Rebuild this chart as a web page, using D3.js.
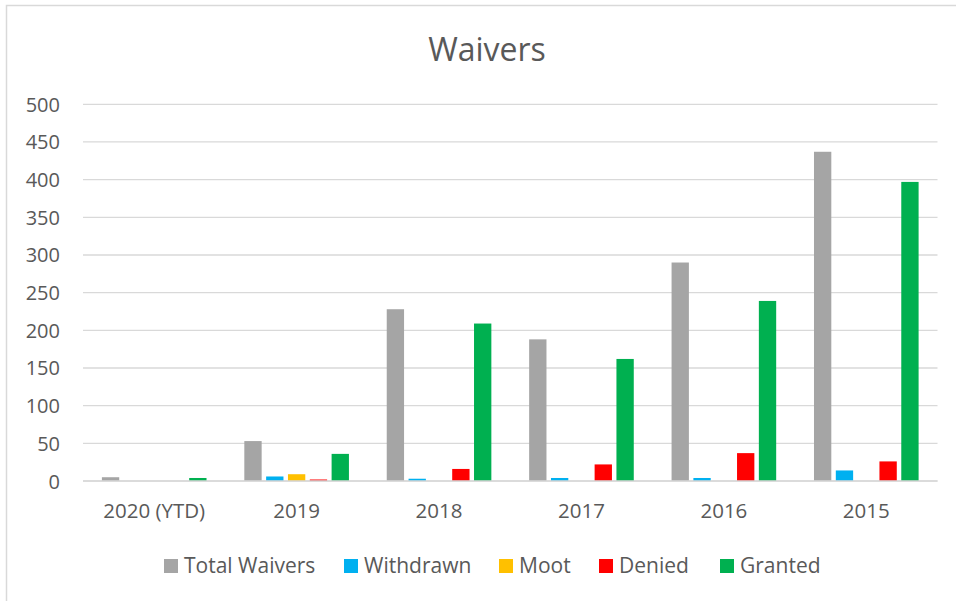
<!DOCTYPE html>
<html><head><meta charset="utf-8">
<script src="https://cdn.jsdelivr.net/npm/d3@7"></script>
<style>
html,body{margin:0;padding:0;background:#fff;}
svg{display:block;}
text{font-family:"Open Sans",sans-serif;fill:#595959;}
</style></head>
<body>
<svg id="chart" width="956" height="601"></svg>
<script>
const categories = ["2020 (YTD)", "2019", "2018", "2017", "2016", "2015"];
const seriesNames = ["Total Waivers", "Withdrawn", "Moot", "Denied", "Granted"];
const seriesColors = ["#A5A5A5", "#00B0F0", "#FFC000", "#FF0000", "#00B050"];
const totalWaivers = [5, 53, 228, 188, 290, 437];
const withdrawn = [0, 6, 3, 4, 4, 14];
const moot = [0, 9, 0, 0, 0, 0];
const denied = [0, 2, 16, 22, 37, 26];
const granted = [4, 36, 209, 162, 239, 397];
const yTicks = [0, 50, 100, 150, 200, 250, 300, 350, 400, 450, 500];
const title = "Waivers";

const seriesValues = [totalWaivers, withdrawn, moot, denied, granted];

const svg = d3.select("#chart");

// chart frame
svg.append("path").attr("d", "M6.5,601 L6.5,5.5 L956,5.5")
  .attr("fill", "none").attr("stroke", "#D9D9D9").attr("stroke-width", 1.5);

const plotL = 83, plotR = 937.5, plotT = 104.3, plotB = 481;
const y = d3.scaleLinear().domain([0, 500]).range([plotB, plotT]);
const x0 = d3.scaleBand().domain(categories).range([plotL, plotR]).padding(0);
const groupPad = 18.9;
const x1 = d3.scaleBand().domain(seriesNames)
  .range([groupPad, x0.bandwidth() - groupPad]).paddingInner(0.206).paddingOuter(0);

// gridlines
svg.append("g").selectAll("line").data(yTicks).join("line")
  .attr("x1", plotL).attr("x2", plotR)
  .attr("y1", d => y(d)).attr("y2", d => y(d))
  .attr("stroke", "#D9D9D9").attr("stroke-width", 1.3);

// y axis labels
const yAxis = d3.axisLeft(y).tickValues(yTicks).tickSize(0).tickPadding(0);
const yg = svg.append("g").attr("transform", "translate(60,0)").call(yAxis);
yg.select(".domain").remove();
yg.selectAll("text").style("font-family", '"Open Sans",sans-serif')
  .style("font-size", "20px").attr("fill", "#595959").attr("dy", "0.35em");

// bars
const groups = svg.append("g").selectAll("g").data(categories).join("g")
  .attr("transform", c => `translate(${x0(c)},0)`);
groups.selectAll("rect").data((c, i) => seriesNames.map((s, j) => ({s, j, v: seriesValues[j][i]})))
  .join("rect")
  .attr("x", d => x1(d.s)).attr("width", x1.bandwidth())
  .attr("y", d => y(d.v)).attr("height", d => plotB - y(d.v))
  .attr("fill", d => seriesColors[d.j]);

// baseline
svg.append("line").attr("x1", plotL).attr("x2", plotR).attr("y1", plotB).attr("y2", plotB)
  .attr("stroke", "#D9D9D9").attr("stroke-width", 1.3);

// x axis labels
const xAxis = d3.axisBottom(x0).tickSize(0).tickPadding(0);
const xg = svg.append("g").attr("transform", `translate(0,${plotB + 30})`).call(xAxis);
xg.select(".domain").remove();
xg.selectAll("text").style("font-family", '"Open Sans",sans-serif')
  .style("font-size", "20.5px").attr("fill", "#595959").attr("dy", "0.35em").attr("y", 0);

// title
svg.append("text").attr("x", 487).attr("y", 61).attr("text-anchor", "middle")
  .style("font-size", "32px").text(title);

// legend
const legendX = [164, 344, 499, 599, 720];
const lg = svg.append("g").selectAll("g").data(seriesNames).join("g")
  .attr("transform", (d, i) => `translate(${legendX[i]},559)`);
lg.append("rect").attr("width", 14).attr("height", 14).attr("fill", (d, i) => seriesColors[i]);
lg.append("text").attr("x", 20).attr("y", 7).attr("dy", "0.35em")
  .style("font-size", "21px").text(d => d);
</script>
</body></html>
